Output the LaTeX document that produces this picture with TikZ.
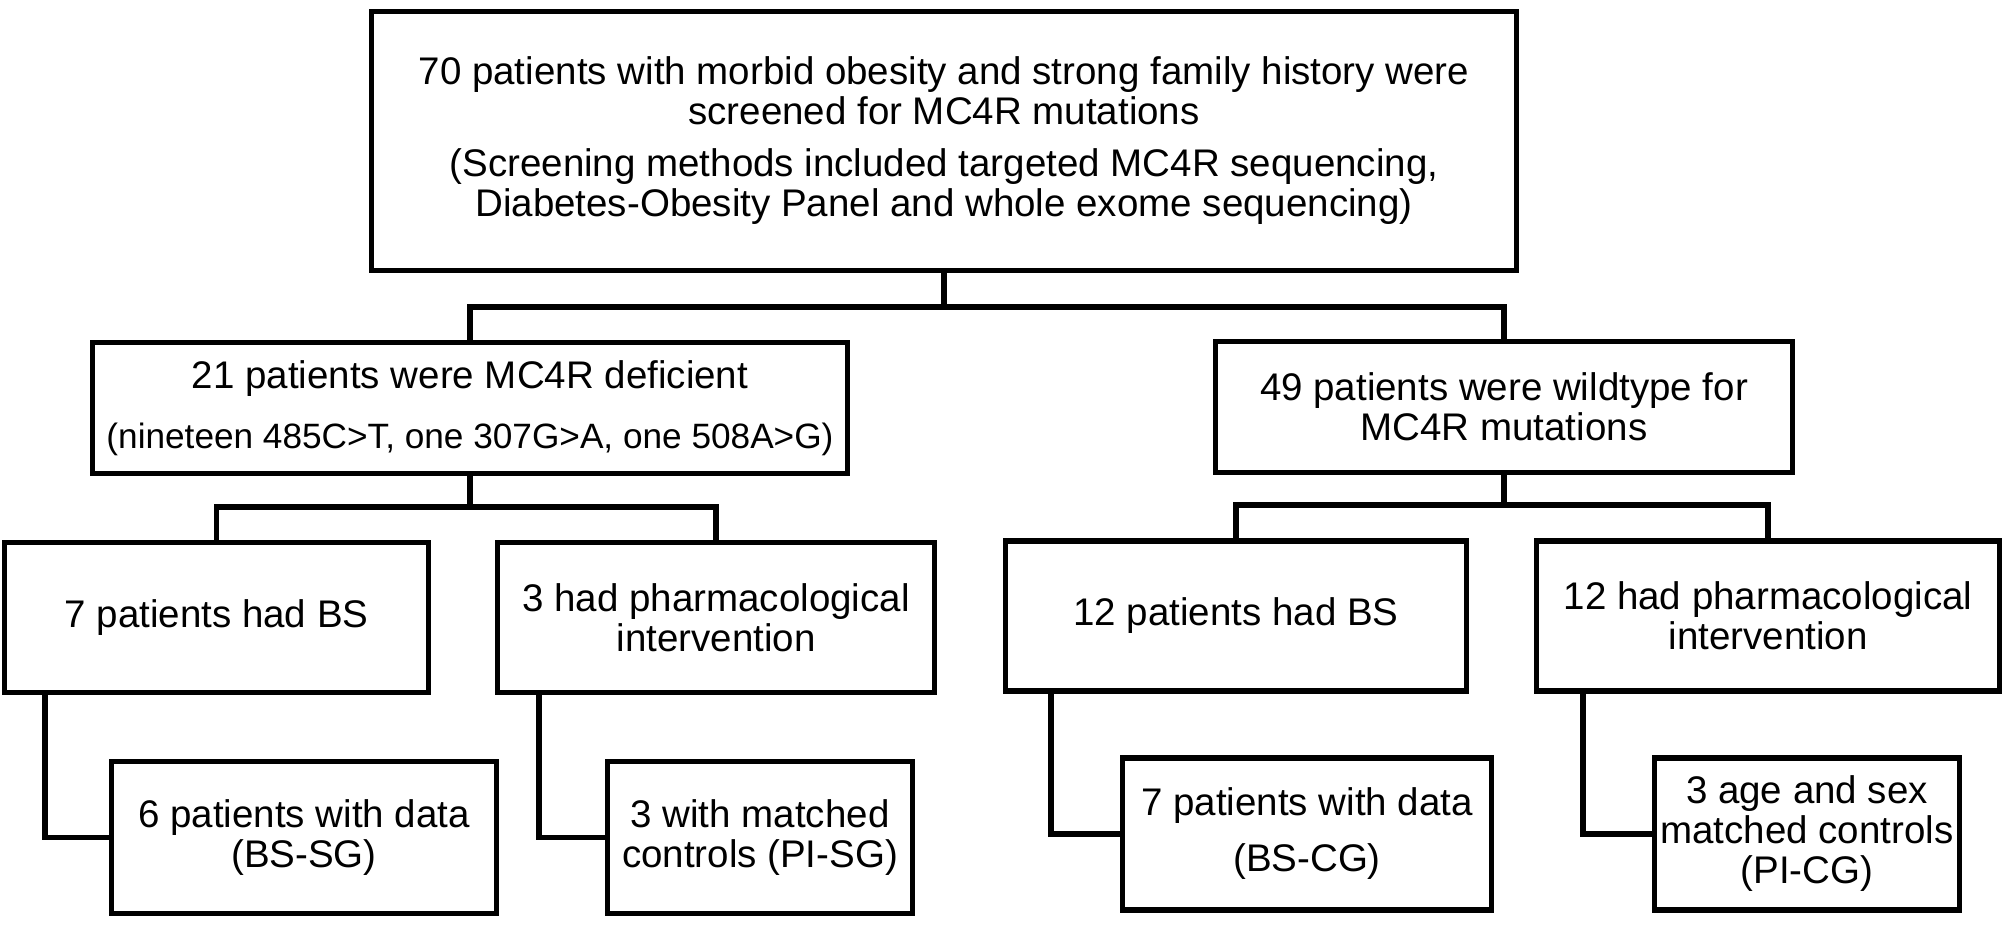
\documentclass[tikz,border=0pt]{standalone}
\usepackage{fontspec}
\setmainfont{Liberation Sans}
\begin{document}
\begin{tikzpicture}[x=0.5pt,y=-0.5pt,
  box/.style={draw=black, line width=2.75pt, align=center, inner sep=0pt,
    font=\fontsize{19.25}{20}\selectfont},
  link/.style={draw=black, line width=2.75pt}]
\fill[white] (0,0) rectangle (2008,925);
\useasboundingbox (0,0) rectangle (2008,925);

% level 0
\node[box, minimum width=572.5pt, minimum height=129.5pt] (top) at (944,141)
  {70 patients with morbid obesity and strong family history were\\
   screened for MC4R mutations\\[6pt]
   (Screening methods included targeted MC4R sequencing,\\
   Diabetes-Obesity Panel and whole exome sequencing)};

% level 1
\node[box, minimum width=377.5pt, minimum height=65.5pt] (b21) at (470,408)
  {21 patients were MC4R deficient\\[10pt]
   {\fontsize{17.6}{20}\selectfont (nineteen 485C>T, one 307G>A, one 508A>G)}};
\node[box, minimum width=288.5pt, minimum height=65.5pt] (b49) at (1504,407)
  {49 patients were wildtype for\\ MC4R mutations};

% level 2
\node[box, minimum width=212pt, minimum height=75pt] (b7) at (216.5,617.5)
  {7 patients had BS};
\node[box, minimum width=218.5pt, minimum height=75pt] (b3p) at (716,617.5)
  {3 had pharmacological\\ intervention};
\node[box, minimum width=230.5pt, minimum height=75pt] (b12) at (1236,616)
  {12 patients had BS};
\node[box, minimum width=231.5pt, minimum height=75pt] (b12p) at (1768,616)
  {12 had pharmacological\\ intervention};

% level 3
\node[box, minimum width=192.5pt, minimum height=76pt] (d6) at (304,837.5)
  {6 patients with data\\ (BS-SG)};
\node[box, minimum width=152.5pt, minimum height=76pt] (d3) at (760,837.5)
  {3 with matched\\ controls (PI-SG)};
\node[box, minimum width=184.5pt, minimum height=76pt] (d7) at (1307,834)
  {7 patients with data\\[8pt] (BS-CG)};
\node[box, minimum width=152.5pt, minimum height=76pt] (d3a) at (1807,834)
  {3 age and sex\\ matched controls\\ (PI-CG)};

% tree connectors
\coordinate (j0) at (944,307);
\draw[link] (top.south) -- (j0);
\draw[link] (b21.north) |- (j0) -| (b49.north);

\coordinate (j1) at (470,507);
\draw[link] (b21.south) -- (j1);
\draw[link] (b7.north) |- (j1) -| (b3p.north);

\coordinate (j2) at (1504,505);
\draw[link] (b49.south) -- (j2);
\draw[link] (b12.north) |- (j2) -| (b12p.north);

% elbow connectors
\coordinate (e1) at (45,0);
\coordinate (e2) at (539,0);
\coordinate (e3) at (1051,0);
\coordinate (e4) at (1583,0);
\draw[link] (b7.south -| e1) |- (d6.west);
\draw[link] (b3p.south -| e2) |- (d3.west);
\draw[link] (b12.south -| e3) |- (d7.west);
\draw[link] (b12p.south -| e4) |- (d3a.west);
\end{tikzpicture}
\end{document}
